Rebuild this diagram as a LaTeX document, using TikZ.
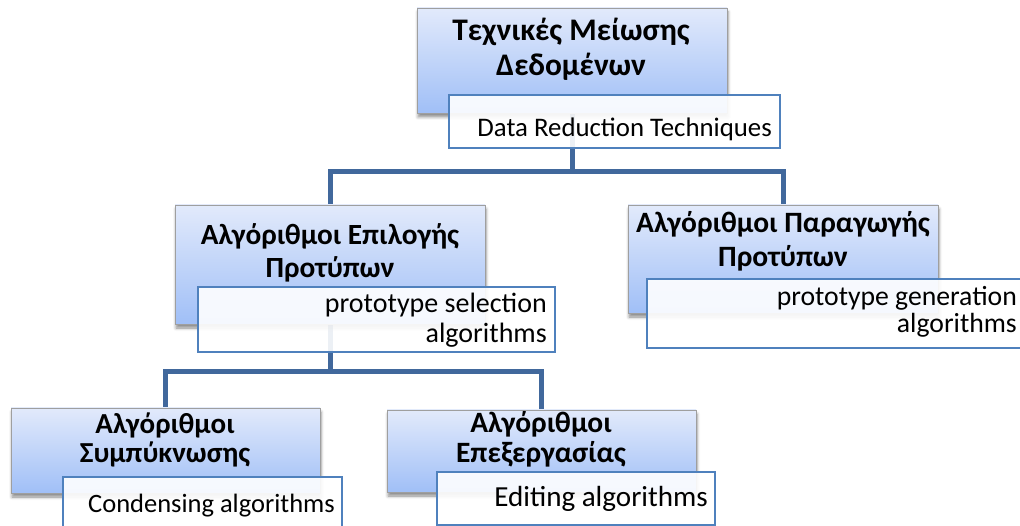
\documentclass[tikz,border=0pt]{standalone}
\usepackage{fontspec}
\setmainfont{Carlito}
\usetikzlibrary{shadows.blur}
\pgfdeclarelayer{background}
\pgfsetlayers{background,main}

\definecolor{connblue}{RGB}{65,104,156}
\definecolor{labelblue}{RGB}{79,129,189}
\definecolor{boxtop}{RGB}{226,234,251}
\definecolor{boxbottom}{RGB}{160,191,247}

\newcommand{\fs}[1]{\fontsize{#1}{#1}\selectfont}

\tikzset{
  bluebox/.style={rectangle, draw=gray!75, line width=0.9pt,
    top color=boxtop, bottom color=boxbottom,
    blur shadow={shadow xshift=1pt, shadow yshift=-4pt,
      shadow blur radius=3pt, shadow opacity=45},
    inner sep=0pt},
  labelbox/.style={rectangle, draw=labelblue, line width=1.3pt,
    fill=white, fill opacity=0.9, draw opacity=1, inner sep=0pt},
  conn/.style={draw=connblue, line width=5pt},
  title/.style={anchor=base, inner sep=0pt},
  caption/.style={anchor=base east, inner sep=0pt},
}

\begin{document}
\begin{tikzpicture}[x=1pt,y=-1pt]
\useasboundingbox (0,0) rectangle (1020,526);
\clip (0,0) rectangle (1020,526);

% blue title boxes
\node[bluebox, minimum width=310pt, minimum height=105pt] (top)  at (572,60.5)   {};
\node[bluebox, minimum width=310pt, minimum height=119pt] (midL) at (330,264.5)  {};
\node[bluebox, minimum width=310pt, minimum height=108pt] (midR) at (783,259)    {};
\node[bluebox, minimum width=309pt, minimum height=85pt]  (botL) at (165.5,450.5){};
\node[bluebox, minimum width=309pt, minimum height=82pt]  (botR) at (541.5,451)  {};

% white caption boxes
\node[labelbox, minimum width=331pt, minimum height=53pt] (topC)  at (614.5,121.5) {};
\node[labelbox, minimum width=357pt, minimum height=65pt] (midLC) at (376.5,319.5) {};
\node[labelbox, minimum width=378pt, minimum height=69pt] (midRC) at (836,313.5)   {};
\node[labelbox, minimum width=279pt, minimum height=58pt] (botLC) at (202.5,506)   {};
\node[labelbox, minimum width=278pt, minimum height=53pt] (botRC) at (576,498.5)   {};

% tree connectors, behind the boxes
\coordinate (bus1) at (0,172);
\coordinate (bus2) at (0,372);
\begin{pgfonlayer}{background}
  \draw[conn] (top.south) -- (top.south |- bus1) -| (midL.north);
  \draw[conn] (top.south |- bus1) -| (midR.north);
  \draw[conn] (midL.south) -- (midL.south |- bus2) -| (botL.north);
  \draw[conn] (midL.south |- bus2) -| (botR.north);
\end{pgfonlayer}

% titles
\node[title, font=\bfseries\fs{31.4}] (t1a) at (571,41)  {Τεχνικές Μείωσης};
\node[title, font=\bfseries\fs{31.4}] (t1b) at (571,76)  {Δεδομένων};
\node[title, font=\bfseries\fs{29.3}] (t2a) at (330,245) {Αλγόριθμοι Επιλογής};
\node[title, font=\bfseries\fs{29.3}] (t2b) at (330,278) {Προτύπων};
\node[title, font=\bfseries\fs{29.5}] (t3a) at (783,233) {Αλγόριθμοι Παραγωγής};
\node[title, font=\bfseries\fs{29.5}] (t3b) at (783,267) {Προτύπων};
\node[title, font=\bfseries\fs{29}]   (t4a) at (165,433) {Αλγόριθμοι};
\node[title, font=\bfseries\fs{29}]   (t4b) at (165,462) {Συμπύκνωσης};
\node[title, font=\bfseries\fs{29.5}] (t5a) at (541,432) {Αλγόριθμοι};
\node[title, font=\bfseries\fs{29.5}] (t5b) at (541,462) {Επεξεργασίας};

% captions
\node[caption, font=\fs{26.8}] (c1)  at (772,137)  {Data Reduction Techniques};
\node[caption, font=\fs{28}]   (c2a) at (547,313)  {prototype selection};
\node[caption, font=\fs{28}]   (c2b) at (547,343)  {algorithms};
\node[caption, font=\fs{27.7}] (c3a) at (1017,306) {prototype generation};
\node[caption, font=\fs{27.7}] (c3b) at (1017,333) {algorithms};
\node[caption, font=\fs{26.5}] (c4)  at (335,512)  {Condensing algorithms};
\node[caption, font=\fs{29.1}] (c5)  at (708,506)  {Editing algorithms};
\end{tikzpicture}
\end{document}
